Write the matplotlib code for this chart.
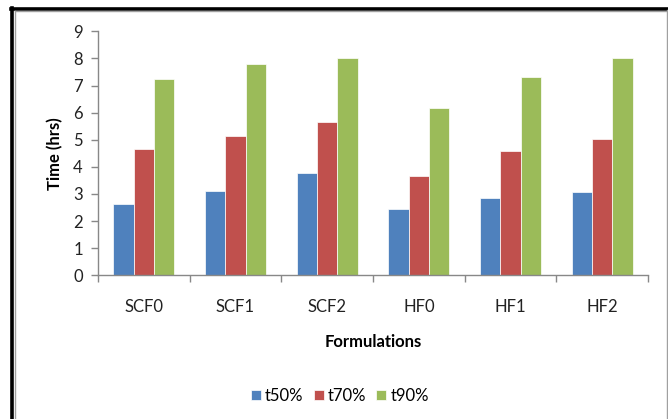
import numpy as np
import matplotlib.pyplot as plt
from matplotlib.lines import Line2D

# release times for each formulation
formulations = ['SCF0', 'SCF1', 'SCF2', 'HF0', 'HF1', 'HF2']
t50 = [2.63, 3.10, 3.76, 2.44, 2.84, 3.06]
t70 = [4.66, 5.12, 5.65, 3.65, 4.60, 5.01]
t90 = [7.24, 7.80, 8.02, 6.16, 7.32, 8.03]
series_names = ['t50%', 't70%', 't90%']
colors = ['#4F81BD', '#C0504D', '#9BBB59']

plt.rcParams['font.family'] = ['Lato', 'DejaVu Sans']

fig = plt.figure(figsize=(6.68, 4.19), dpi=100)
W, H = 668, 419
ax = fig.add_axes([98 / W, 1 - 275.3 / H, (648 - 98) / W, (275.3 - 31.3) / H])

x = np.arange(len(formulations))
width = 0.222
for i, (vals, name, col) in enumerate(zip([t50, t70, t90], series_names, colors)):
    ax.bar(x + (i - 1) * width, vals, width, color=col, edgecolor='white',
           linewidth=0.5, label=name, zorder=2)

ax.set_xlim(-0.5, len(formulations) - 0.5)
ax.set_ylim(0, 9)
ax.set_yticks(range(10))
ax.set_xticks(x)
ax.set_xticklabels(formulations)
ax.set_xticks(np.arange(-0.5, len(formulations)), minor=True)
ax.tick_params(axis='x', which='major', length=0, pad=17, labelsize=12, colors='#222222')
ax.tick_params(axis='x', which='minor', length=5, width=1, color='#888888', direction='out')
ax.tick_params(axis='y', length=5, width=1, color='#888888', labelsize=12, pad=6,
               labelcolor='#222222')

for s in ['top', 'right']:
    ax.spines[s].set_visible(False)
for s in ['left', 'bottom']:
    ax.spines[s].set_color('#888888')
    ax.spines[s].set_linewidth(1)

ax.set_ylabel('Time (hrs)', fontsize=12, fontweight='bold', labelpad=7)
ax.set_xlabel('Formulations', fontsize=12, fontweight='bold', labelpad=14)

leg = fig.legend(loc='center', bbox_to_anchor=(340 / W, 1 - 396 / H), ncol=3,
                 frameon=False, fontsize=12, handlelength=0.6, handleheight=0.6,
                 handletextpad=0.25, columnspacing=0.6)

# outer frame: thick black on left/top, thin grey inside and on right
fig.add_artist(Line2D([12.5 / W, 12.5 / W], [0, 1 - 8.5 / H], color='black', lw=2.6,
                      transform=fig.transFigure))
fig.add_artist(Line2D([11 / W, 1], [1 - 9 / H, 1 - 9 / H], color='black', lw=2.6,
                      transform=fig.transFigure))
fig.add_artist(Line2D([14.8 / W, 14.8 / W], [0, 1 - 10.7 / H], color='#A0A0A0', lw=1,
                      transform=fig.transFigure))
fig.add_artist(Line2D([14.5 / W, 667 / W], [1 - 10.8 / H, 1 - 10.8 / H], color='#A0A0A0', lw=1,
                      transform=fig.transFigure))
fig.add_artist(Line2D([667 / W, 667 / W], [0, 1 - 10.5 / H], color='#A0A0A0', lw=1,
                      transform=fig.transFigure))

fig.savefig('out.png', dpi=100)
